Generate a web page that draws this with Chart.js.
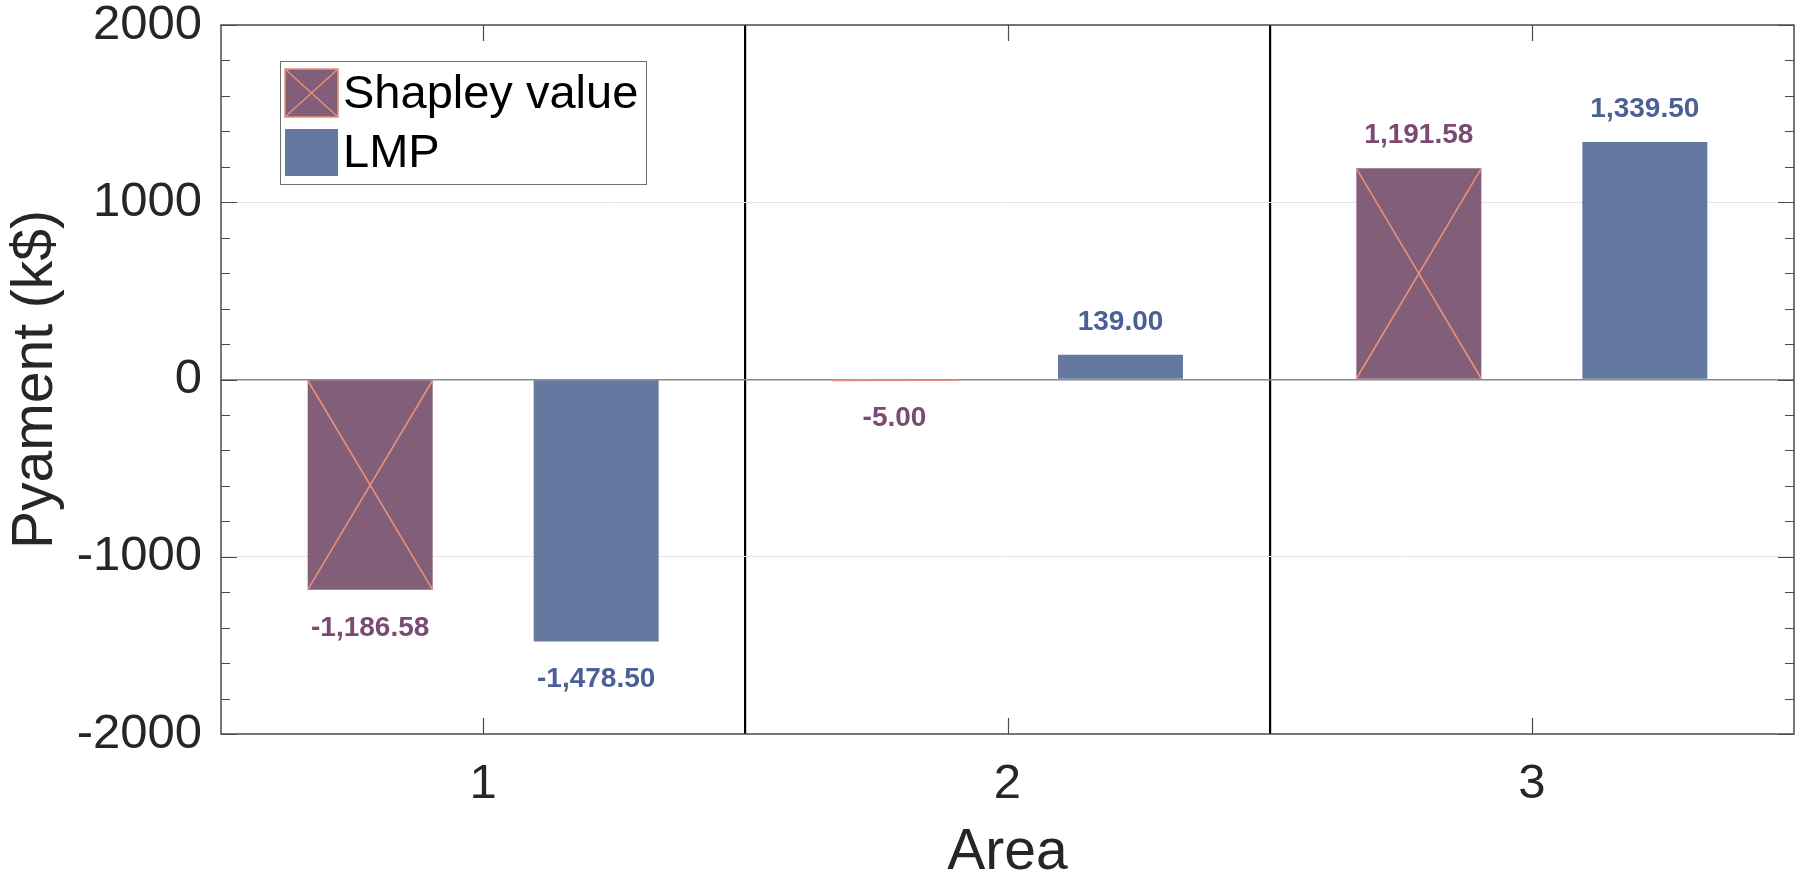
<!DOCTYPE html>
<html>
<head>
<meta charset="utf-8">
<title>Pyament by area</title>
<script src="https://cdn.jsdelivr.net/npm/chart.js@4.4.1/dist/chart.umd.min.js"></script>
<style>
  html, body { margin: 0; padding: 0; background: #fff; }
  #wrap { width: 1806px; height: 879px; position: relative; }
</style>
</head>
<body>
<div id="wrap"><canvas id="pay-canvas"></canvas></div>
<script>
'use strict';

// data
const areas = ['1', '2', '3'];
const shapley = [-1186.58, -5.00, 1191.58];
const lmp = [-1478.50, 139.00, 1339.50];
const yTicks = [-2000, -1000, 0, 1000, 2000];
const seriesNames = ['Shapley value', 'LMP'];

const FONT = '"Liberation Sans", Arial, Helvetica, sans-serif';
const C_SHAP = '#835e78';
const C_LMP = '#6578a0';
const C_HATCH = '#e8907a';
const C_SHAP_TXT = '#7a4a72';
const C_LMP_TXT = '#4a6096';
const C_AXIS = '#4a4a4a';

function fmt(v) {
  return v.toLocaleString('en-US', { minimumFractionDigits: 2, maximumFractionDigits: 2 });
}

function drawCross(ctx, l, t, r, b) {
  ctx.beginPath();
  ctx.moveTo(l, t); ctx.lineTo(r, b);
  ctx.moveTo(l, b); ctx.lineTo(r, t);
  ctx.stroke();
}

const decor = {
  id: 'decor',
  afterDatasetsDraw(chart) {
    const ctx = chart.ctx;
    const xs = chart.scales.x, ys = chart.scales.y;
    const area = chart.chartArea;

    // hatch on the Shapley bars
    ctx.save();
    ctx.strokeStyle = C_HATCH;
    ctx.lineWidth = 1.6;
    chart.getDatasetMeta(0).data.forEach(bar => {
      const p = bar.getProps(['x', 'y', 'base', 'width'], true);
      drawCross(ctx, p.x - p.width / 2, p.y, p.x + p.width / 2, p.base);
    });
    ctx.restore();

    // value labels
    ctx.save();
    ctx.font = 'bold 28px ' + FONT;
    ctx.textAlign = 'center';
    ctx.textBaseline = 'middle';
    chart.data.datasets.forEach((ds, di) => {
      ctx.fillStyle = di === 0 ? C_SHAP_TXT : C_LMP_TXT;
      chart.getDatasetMeta(di).data.forEach((bar, i) => {
        const v = ds.data[i];
        const py = ys.getPixelForValue(v);
        ctx.fillText(fmt(v), bar.x, v >= 0 ? py - 33 : py + 38);
      });
    });
    ctx.restore();

    // frame + matlab style ticks
    ctx.save();
    ctx.strokeStyle = C_AXIS;
    ctx.lineWidth = 1.5;
    ctx.strokeRect(area.left, area.top, area.right - area.left, area.bottom - area.top);
    ctx.lineWidth = 1.2;
    ctx.beginPath();
    for (let v = ys.min; v <= ys.max; v += 200) {
      const py = Math.round(ys.getPixelForValue(v)) + 0.5;
      const len = v % 1000 === 0 ? 16 : 9;
      ctx.moveTo(area.left, py); ctx.lineTo(area.left + len, py);
      ctx.moveTo(area.right, py); ctx.lineTo(area.right - len, py);
    }
    areas.forEach((a, i) => {
      const px = Math.round(xs.getPixelForValue(i)) + 0.5;
      ctx.moveTo(px, area.bottom); ctx.lineTo(px, area.bottom - 16);
      ctx.moveTo(px, area.top); ctx.lineTo(px, area.top + 16);
    });
    ctx.stroke();
    ctx.restore();

    // legend box
    ctx.save();
    const lx = 280, ly = 61, lw = 366, lh = 123;
    ctx.fillStyle = '#fff';
    ctx.fillRect(lx, ly, lw, lh);
    ctx.strokeStyle = '#6e6e6e';
    ctx.lineWidth = 1;
    ctx.strokeRect(lx + 0.5, ly + 0.5, lw, lh);
    ctx.fillStyle = C_SHAP;
    ctx.fillRect(285, 69, 53, 48);
    ctx.strokeStyle = C_HATCH;
    ctx.lineWidth = 1.5;
    ctx.strokeRect(285, 69, 53, 48);
    drawCross(ctx, 285, 69, 338, 117);
    ctx.fillStyle = C_LMP;
    ctx.fillRect(285, 129, 53, 47);
    ctx.fillStyle = '#000';
    ctx.font = '47px ' + FONT;
    ctx.textAlign = 'left';
    ctx.textBaseline = 'middle';
    ctx.fillText(seriesNames[0], 343, 95);
    ctx.fillText(seriesNames[1], 343, 154);
    ctx.restore();
  }
};

new Chart(document.getElementById('pay-canvas'), {
  type: 'bar',
  data: {
    labels: areas,
    datasets: [
      { label: seriesNames[0], data: shapley, backgroundColor: C_SHAP, borderWidth: 0 },
      { label: seriesNames[1], data: lmp, backgroundColor: C_LMP, borderWidth: 0 }
    ]
  },
  options: {
    responsive: true, maintainAspectRatio: false, animation: false,
    categoryPercentage: 0.862, barPercentage: 0.553,
    layout: { padding: { left: 0, top: 25, right: 12, bottom: 0 } },
    plugins: { legend: { display: false }, tooltip: { enabled: false } },
    scales: {
      x: {
        afterFit: s => { s.height = 145; s.paddingLeft = 0; s.paddingRight = 0; },
        border: { display: false },
        grid: {
          offset: true, drawTicks: false,
          color: c => (c.index === 1 || c.index === 2) ? '#000' : 'rgba(0,0,0,0)',
          lineWidth: 2.2
        },
        ticks: { color: '#262626', font: { family: FONT, size: 49 }, padding: 21, maxRotation: 0 },
        title: { display: true, text: 'Area', color: '#262626', font: { family: FONT, size: 57, lineHeight: 0.9 }, padding: 0 }
      },
      y: {
        min: yTicks[0], max: yTicks[yTicks.length - 1],
        afterFit: s => { s.width = 221; s.paddingTop = 0; s.paddingBottom = 0; },
        afterBuildTicks: s => { s.ticks = yTicks.map(v => ({ value: v })); },
        border: { display: false },
        grid: {
          drawTicks: false,
          color: c => c.tick && c.tick.value === 0 ? '#8a8a8a'
            : (c.tick && Math.abs(c.tick.value) === 1000 ? '#e4e4e4' : 'rgba(0,0,0,0)'),
          lineWidth: c => c.tick && c.tick.value === 0 ? 1.5 : 1
        },
        ticks: { color: '#262626', font: { family: FONT, size: 49 }, padding: 19, callback: v => String(v) },
        title: { display: true, text: 'Pyament (k$)', color: '#262626', font: { family: FONT, size: 57 }, padding: { top: 2, bottom: 0 } }
      }
    }
  },
  plugins: [decor]
});
</script>
</body>
</html>
